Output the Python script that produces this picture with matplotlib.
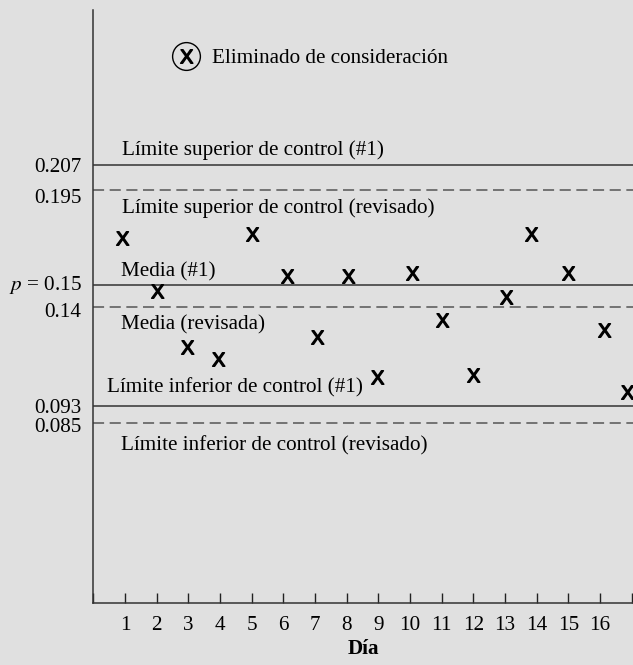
import matplotlib
matplotlib.use("Agg")
import matplotlib.pyplot as plt
from matplotlib.textpath import TextPath
from matplotlib.path import Path
from matplotlib.font_manager import FontProperties
from matplotlib.transforms import ScaledTranslation

# ---- data ----
day_labels = [str(d) for d in range(1, 17)]
tick_pos = list(range(0, 18))
point_x = [0.90, 2.00, 2.95, 3.95, 5.00, 6.11, 7.05, 8.03, 8.97, 10.05,
           11.00, 11.99, 13.03, 13.82, 15.00, 16.13, 16.84]
point_y = [0.1725, 0.1475, 0.1210, 0.1155, 0.1742, 0.1544, 0.1257, 0.1544,
           0.1068, 0.1557, 0.1336, 0.1076, 0.1446, 0.1742, 0.1557, 0.1289,
           0.0998]
ucl1, ucl2 = 0.207, 0.195
mean1, mean2 = 0.15, 0.14
lcl1, lcl2 = 0.093, 0.085
ytick_vals = [ucl1, ucl2, mean1, mean2, lcl1, lcl2]
ytick_text = ["0.207", "0.195", r"$p$ = 0.15", "0.14", "0.093", "0.085"]

plt.rcParams['font.family'] = ['Liberation Serif', 'DejaVu Serif']
plt.rcParams['mathtext.fontset'] = 'stix'
plt.rcParams['lines.scale_dashes'] = False

# letter-X marker (sans-serif glyph), centred
tp = TextPath((0, 0), 'X', size=1, prop=FontProperties(family='Liberation Sans'))
v = tp.vertices.copy()
v = v - (v.min(axis=0) + v.max(axis=0)) / 2
xmark = Path(v, tp.codes)

W, H = 633, 665
fig = plt.figure(figsize=(W / 100, H / 100), dpi=100)
bg = '#e0e0e0'
fig.patch.set_facecolor(bg)
x0, x1, y0, y1 = 93.3, 633, 10, 603.3
ax = fig.add_axes([x0 / W, (H - y1) / H, (x1 - x0) / W, (y1 - y0) / H])
ax.set_facecolor(bg)
ax.set_xlim(0, (x1 - x0) / 31.67)
ax.set_ylim(0, (y1 - y0) / 2119)

lc = '#333333'
dc = '#555555'
for val in (ucl1, mean1, lcl1):
    ax.axhline(val, color=lc, lw=1.1, zorder=2)
for val in (ucl2, mean2, lcl2):
    ax.axhline(val, color=dc, lw=1.1, dashes=(8, 4), zorder=2)

ax.plot(point_x, point_y, linestyle='none', marker=xmark, ms=9.8, mew=1.0,
        color='black', clip_on=False, zorder=3)

fs = 15.2
ax.text(0.916, 0.2116, "Límite superior de control (#1)", fontsize=fs, va='baseline')
ax.text(0.916, 0.1843, "Límite superior de control (revisado)", fontsize=fs, va='baseline')
ax.text(0.865, 0.1541, "Media (#1)", fontsize=fs, va='baseline')
ax.text(0.865, 0.1290, "Media (revisada)", fontsize=fs, va='baseline')
ax.text(0.442, 0.0996, "Límite inferior de control (#1)", fontsize=fs, va='baseline')
ax.text(0.865, 0.0723, "Límite inferior de control (revisado)", fontsize=fs, va='baseline')

# legend-like note
ax.plot([2.93], [0.2585], marker='o', ms=20, mfc='none', mec='black', mew=1.0,
        linestyle='none', clip_on=False)
ax.plot([2.93], [0.2585], marker=xmark, ms=9.8, mew=1.0, color='black',
        linestyle='none', clip_on=False)
ax.text(3.74, 0.2548, "Eliminado de consideración", fontsize=fs, va='baseline')

for s in ('top', 'right'):
    ax.spines[s].set_visible(False)
for s in ('left', 'bottom'):
    ax.spines[s].set_color(lc)
    ax.spines[s].set_linewidth(1.1)

ax.set_xticks(tick_pos)
ax.set_xticklabels([''] + day_labels + [''])
ax.tick_params(axis='x', direction='in', length=7.2, width=1.0, color='#222222',
               labelsize=fs, pad=9)
ax.set_yticks(ytick_vals)
ax.set_yticklabels(ytick_text)
ax.tick_params(axis='y', length=0, labelsize=fs, pad=8.4)
# small vertical offsets of the y labels as in the reference (points)
offsets = [0, -4, 2.5, -2.5, 0, -1]
for lab, dy in zip(ax.get_yticklabels(), offsets):
    lab.set_transform(lab.get_transform() + ScaledTranslation(0, dy / 72, fig.dpi_scale_trans))
ax.set_xlabel("Día", fontsize=fs, fontweight='bold', labelpad=3)

fig.savefig("out.png", dpi=100, facecolor=bg)
